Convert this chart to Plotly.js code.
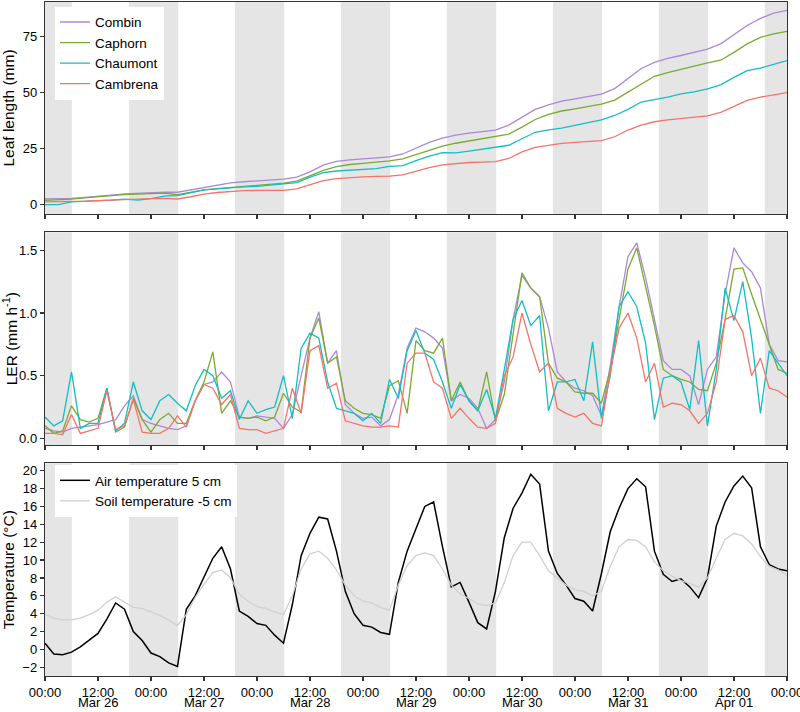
<!DOCTYPE html>
<html>
<head>
<meta charset="utf-8">
<script src="https://cdn.plot.ly/plotly-3.0.1.min.js"></script>
<style>
  html, body { margin: 0; padding: 0; background: #fff; }
  #chart { width: 800px; height: 712px; }
</style>
</head>
<body>
<div id="chart"></div>
<script>
// sampling: leaf length every 3 h, LER and temperatures every 2 h, from Mar 26 00:00
var startDay = Date.UTC(2019, 2, 26);
var leafStep = 3;
var rateStep = 2;

// leaf length (mm)
var combinLen = [2.5,2.6,2.8,3.2,3.6,4.2,4.8,5.1,5.4,5.5, 5.5,6.5,7.6,8.6,9.7,10.2,10.6,10.9,11.4,12.3,
  14.6,17.6,19.3,20.0,20.4,20.8,21.3,22.6,25.2,27.8, 29.7,31.0,31.9,32.5,33.3,35.5,39.0,42.5,44.5,46.2,
  47.2,48.1,49.3,51.8,56.3,60.8,63.5,65.3,66.6,68.0, 69.5,71.8,76.0,80.0,83.2,85.5,86.8];
var caphornLen = [1.9,2.1,2.4,3.0,3.6,4.0,4.4,4.7,5.1,5.1, 4.4,5.4,6.6,7.1,7.6,8.1,8.6,9.0,9.6,10.5,
  12.8,15.3,17.0,17.9,18.4,18.9,19.5,20.4,22.3,24.2, 26.1,27.4,28.4,29.5,30.5,31.5,34.6,38.0,40.3,41.8,
  42.8,43.9,44.9,46.7,50.2,54.0,57.3,59.0,60.3,61.8, 63.3,64.5,68.0,71.8,74.7,76.3,77.4];
var chaumontLen = [0,0,1.2,1.4,1.6,2.0,2.4,2.0,2.7,3.8, 4.0,5.3,6.6,7.0,7.5,7.9,8.1,8.6,9.0,9.8,
  12.3,14.3,15.0,15.4,15.8,16.1,17.1,17.4,19.6,21.6, 23.2,23.1,23.9,24.8,25.6,26.5,29.4,32.3,33.4,34.2,
  35.4,36.6,37.8,39.8,42.5,45.8,46.9,48.0,49.5,50.3, 51.7,53.5,56.8,59.8,61.0,62.8,64.3];
var cambrenaLen = [1.2,1.2,1.3,1.5,1.8,2.1,2.3,2.5,2.7,2.8, 2.5,3.5,4.7,5.4,5.9,6.2,6.3,6.3,6.3,7.0,
  8.8,10.7,11.6,12.1,12.4,12.6,12.7,13.3,14.9,16.5, 17.7,18.3,18.8,19.0,19.2,20.6,23.5,25.6,26.6,27.3,
  27.8,28.2,28.6,30.3,33.3,35.5,37.0,37.8,38.4,39.2, 39.6,41.2,44.0,46.5,48.0,49.1,50.0];

// leaf elongation rate (mm h-1)
var combinLER = [0.08,0.06,0.05,0.08,0.09,0.10,0.11,0.13,0.15,0.26, 0.34,0.15,0.12,0.10,0.08,0.07,0.10,0.30,0.43,0.45,
  0.53,0.45,0.17,0.16,0.18,0.17,0.16,0.08,0.19,0.50, 0.80,1.01,0.60,0.70,0.27,0.20,0.16,0.17,0.10,0.15,
  0.35,0.72,0.88,0.85,0.80,0.72,0.30,0.35,0.32,0.24, 0.08,0.15,0.45,0.95,1.30,1.20,1.13,0.88,0.53,0.45,
  0.40,0.38,0.34,0.18,0.58,1.05,1.45,1.56,1.28,0.95, 0.62,0.55,0.55,0.50,0.27,0.55,0.65,1.15,1.52,1.40,
  1.33,1.20,0.75,0.62,0.61];
var caphornLER = [0.10,0.04,0.06,0.26,0.15,0.13,0.16,0.40,0.05,0.09, 0.32,0.15,0.05,0.15,0.20,0.12,0.12,0.30,0.45,0.69,
  0.20,0.30,0.17,0.16,0.17,0.14,0.17,0.36,0.25,0.21, 0.80,0.96,0.60,0.65,0.30,0.24,0.20,0.19,0.16,0.42,
  0.46,0.20,0.78,0.70,0.68,0.80,0.30,0.45,0.30,0.22, 0.53,0.14,0.35,0.85,1.32,1.20,1.13,0.60,0.48,0.45,
  0.37,0.36,0.36,0.28,0.55,0.95,1.35,1.52,1.22,0.90, 0.55,0.50,0.47,0.45,0.39,0.38,0.60,0.95,1.35,1.36,
  1.15,0.95,0.75,0.55,0.52];
var chaumontLER = [0.17,0.10,0.14,0.53,0.08,0.12,0.12,0.40,0.06,0.12, 0.45,0.22,0.15,0.30,0.35,0.28,0.22,0.42,0.55,0.50,
  0.32,0.38,0.15,0.30,0.20,0.23,0.25,0.50,0.16,0.72, 0.84,0.80,0.45,0.24,0.22,0.20,0.14,0.20,0.12,0.47,
  0.32,0.70,0.86,0.68,0.63,0.45,0.24,0.43,0.30,0.22, 0.39,0.16,0.55,0.95,1.10,0.90,0.98,0.22,0.45,0.45,
  0.47,0.30,0.77,0.16,0.50,1.05,1.17,1.05,0.76,0.15, 0.48,0.50,0.45,0.23,0.78,0.10,0.55,1.20,0.94,1.25,
  0.80,0.20,0.70,0.60,0.50];
var cambrenaLER = [0.04,0.04,0.03,0.19,0.04,0.06,0.08,0.38,0.07,0.10, 0.31,0.05,0.04,0.04,0.08,0.18,0.09,0.30,0.43,0.40,
  0.27,0.35,0.08,0.07,0.07,0.04,0.06,0.08,0.40,0.20, 0.70,0.74,0.40,0.44,0.14,0.12,0.10,0.09,0.09,0.10,
  0.09,0.60,0.68,0.68,0.45,0.40,0.16,0.24,0.16,0.09, 0.08,0.12,0.50,0.65,1.00,0.75,0.53,0.60,0.24,0.20,
  0.17,0.20,0.12,0.10,0.53,0.88,1.00,0.80,0.45,0.60, 0.25,0.28,0.27,0.22,0.12,0.20,0.45,0.95,0.98,0.85,
  0.50,0.64,0.40,0.38,0.33];

// temperatures (°C)
var airTemp = [0.7,-0.5,-0.6,-0.3,0.3,1.0,1.8,3.4,5.2,4.5, 2.0,1.0,-0.4,-0.8,-1.5,-1.9,4.5,6.0,8.2,10.2,
  11.5,9.0,4.3,3.7,2.9,2.7,1.6,0.7,5.0,10.5, 13.0,14.8,14.6,11.0,6.5,4.0,2.7,2.5,1.9,1.7,
  7.5,11.0,13.5,16.0,16.5,11.5,7.0,7.5,5.3,3.0, 2.3,6.5,12.5,15.8,17.5,19.6,18.5,11.0,8.5,7.2,
  5.7,5.4,4.3,8.5,13.2,15.8,18.0,19.1,18.2,11.0, 8.4,7.6,7.9,7.0,5.8,8.0,13.8,16.5,18.3,19.4,
  18.1,11.5,9.5,9.0,8.8];
var soilTemp = [3.9,3.5,3.3,3.3,3.5,3.9,4.4,5.3,5.9,5.3, 4.7,4.6,4.2,3.8,3.3,2.7,3.9,5.8,7.3,8.6,
  8.9,8.0,6.2,5.4,4.8,4.6,4.2,3.9,6.0,9.0, 10.7,11.0,10.2,8.9,7.2,6.0,5.4,5.2,4.7,4.4,
  7.2,9.4,10.5,10.8,10.5,9.0,7.2,6.2,5.7,5.1, 4.9,5.2,7.5,10.5,12.0,12.0,10.5,8.8,8.0,7.2,
  6.7,6.5,6.0,6.5,9.3,11.5,12.3,12.2,11.5,9.8, 8.8,8.2,7.7,7.4,7.0,8.0,10.2,12.3,13.0,12.7,
  11.8,10.4,9.3,8.9,8.3];

// x ticks: hour labels on the axis, day names under the 12:00 ticks
var tickVals = ['2019-03-26 00:00','2019-03-26 12:00','2019-03-27 00:00','2019-03-27 12:00',
  '2019-03-28 00:00','2019-03-28 12:00','2019-03-29 00:00','2019-03-29 12:00','2019-03-30 00:00',
  '2019-03-30 12:00','2019-03-31 00:00','2019-03-31 12:00','2019-04-01 00:00','2019-04-01 12:00',
  '2019-04-02 00:00'];
var tickText = ['00:00','12:00','00:00','12:00','00:00','12:00','00:00','12:00','00:00',
  '12:00','00:00','12:00','00:00','12:00','00:00'];
var dayVals = ['2019-03-26 12:00','2019-03-27 12:00','2019-03-28 12:00','2019-03-29 12:00',
  '2019-03-30 12:00','2019-03-31 12:00','2019-04-01 12:00'];
var dayText = ['Mar 26','Mar 27','Mar 28','Mar 29','Mar 30','Mar 31','Apr 01'];

// night periods (grey bands)
var nightStart = ['2019-03-26 00:00','2019-03-26 19:00','2019-03-27 19:00','2019-03-28 19:00',
  '2019-03-29 19:00','2019-03-30 19:00','2019-03-31 19:00','2019-04-01 19:00'];
var nightEnd = ['2019-03-26 06:05','2019-03-27 06:10','2019-03-28 06:10','2019-03-29 06:10',
  '2019-03-30 06:10','2019-03-31 06:10','2019-04-01 06:10','2019-04-02 00:01'];

function stamp(h) {
  return new Date(startDay + h * 3600000).toISOString().slice(0, 16).replace('T', ' ');
}
function times(n, step) {
  var out = [];
  for (var i = 0; i < n; i++) out.push(stamp(i * step));
  return out;
}
var tLeaf = times(combinLen.length, leafStep);
var tRate = times(combinLER.length, rateStep);

var names = ['Combin', 'Caphorn', 'Chaumont', 'Cambrena'];
var colors = ['#ac88d8', '#79ab30', '#13bec4', '#f4746b'];
var lens = [combinLen, caphornLen, chaumontLen, cambrenaLen];
var rates = [combinLER, caphornLER, chaumontLER, cambrenaLER];

var traces = [];
for (var i = 0; i < names.length; i++) {
  traces.push({
    x: tLeaf, y: lens[i], name: names[i], type: 'scatter', mode: 'lines',
    line: {color: colors[i], width: 1.3}, xaxis: 'x', yaxis: 'y', legend: 'legend'
  });
}
for (var i = 0; i < names.length; i++) {
  traces.push({
    x: tRate, y: rates[i], name: names[i], type: 'scatter', mode: 'lines',
    line: {color: colors[i], width: 1.3}, xaxis: 'x2', yaxis: 'y2', showlegend: false
  });
}
traces.push({
  x: tRate, y: airTemp, name: 'Air temperature 5 cm', type: 'scatter', mode: 'lines',
  line: {color: '#000000', width: 1.5}, xaxis: 'x3', yaxis: 'y3', legend: 'legend2'
});
traces.push({
  x: tRate, y: soilTemp, name: 'Soil temperature -5 cm', type: 'scatter', mode: 'lines',
  line: {color: '#d0d0d0', width: 1.3}, xaxis: 'x3', yaxis: 'y3', legend: 'legend2'
});

var shapes = [];
['y', 'y2', 'y3'].forEach(function (ya, k) {
  var xa = k === 0 ? 'x' : 'x' + (k + 1);
  for (var j = 0; j < nightStart.length; j++) {
    shapes.push({
      type: 'rect', xref: xa, yref: ya + ' domain', x0: nightStart[j], x1: nightEnd[j],
      y0: 0, y1: 1, fillcolor: '#e5e5e5', line: {width: 0}, layer: 'below'
    });
  }
});

var annotations = dayVals.map(function (d, j) {
  return {
    x: d, xref: 'x3', y: -0.0525, yref: 'paper', yanchor: 'bottom', xanchor: 'center',
    text: dayText[j], showarrow: false, font: {size: 13, color: '#000'}, borderpad: 0
  };
});

var font = 'Liberation Sans, Arial, sans-serif';
function xAxis(anchor, labels) {
  return {
    type: 'date', anchor: anchor, domain: [0, 1],
    range: ['2019-03-26 00:00', '2019-04-02 00:01'],
    tickmode: 'array', tickvals: tickVals, ticktext: tickText,
    showticklabels: labels, ticklabeloverflow: 'allow',
    ticks: 'outside', ticklen: 4, tickwidth: 1.2, tickcolor: '#333',
    showline: true, mirror: true, linecolor: '#333', linewidth: 1.2,
    showgrid: false, zeroline: false, tickfont: {size: 13, color: '#000'}
  };
}
function yAxis(anchor, domain, range, title) {
  return {
    anchor: anchor, domain: domain, range: range,
    ticks: 'outside', ticklen: 4, tickwidth: 1.2, tickcolor: '#333',
    showline: true, mirror: true, linecolor: '#333', linewidth: 1.2,
    showgrid: false, zeroline: false, tickfont: {size: 13, color: '#000'},
    title: {text: title, font: {size: 15.5, color: '#000'}, standoff: 4}
  };
}

var layout = {
  width: 800, height: 712,
  margin: {l: 45, r: 13, t: 2, b: 36},
  paper_bgcolor: '#fff', plot_bgcolor: '#fff',
  font: {family: font, color: '#000'},
  showlegend: true,
  xaxis: xAxis('y', false),
  xaxis2: Object.assign(xAxis('y2', false), {matches: 'x'}),
  xaxis3: Object.assign(xAxis('y3', true), {matches: 'x'}),
  yaxis: Object.assign(yAxis('x', [0.6855, 1], [-4.2, 90.5], 'Leaf length (mm)'), {tickvals: [0, 25, 50, 75]}),
  yaxis2: Object.assign(yAxis('x2', [0.3427, 0.6583], [-0.053, 1.644], 'LER (mm h<sup>-1</sup>)'),
    {tickvals: [0, 0.5, 1, 1.5], tickformat: '.1f'}),
  yaxis3: Object.assign(yAxis('x3', [0, 0.3156], [-2.97, 20.83], 'Temperature (°C)'), {tick0: 0, dtick: 2}),
  legend: {
    x: 0.0135, y: 0.993, xanchor: 'left', yanchor: 'top', bgcolor: '#fff', borderwidth: 0,
    font: {size: 13.5, color: '#000'}, itemwidth: 30, tracegroupgap: 0
  },
  legend2: {
    x: 0.0135, y: 0.313, xanchor: 'left', yanchor: 'top', bgcolor: '#fff', borderwidth: 0,
    font: {size: 13.5, color: '#000'}, itemwidth: 30
  },
  annotations: annotations,
  shapes: shapes
};

Plotly.newPlot('chart', traces, layout, {displayModeBar: false, staticPlot: true});
</script>
</body>
</html>
